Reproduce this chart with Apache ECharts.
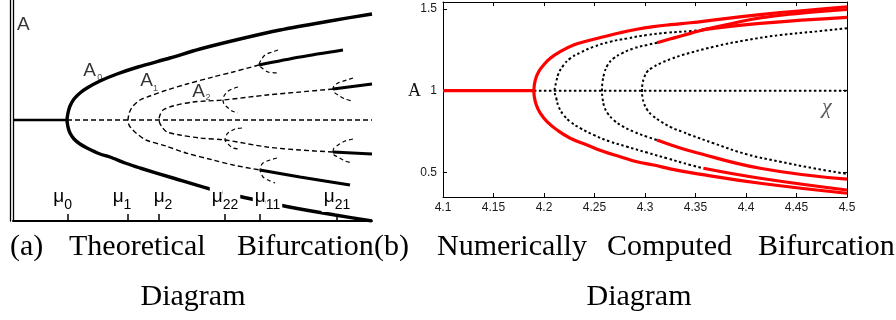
<!DOCTYPE html>
<html>
<head>
<meta charset="utf-8">
<script src="https://cdn.jsdelivr.net/npm/echarts@6/dist/echarts.min.js"></script>
<style>
  html, body { margin: 0; padding: 0; background: #fff; }
  #chart { width: 896px; height: 320px; }
</style>
</head>
<body>
<div id="chart"></div>
<script>
// ---------------- (a) theoretical diagram, schematic units ----------------
// horizontal: parameter mu (arbitrary units), vertical: amplitude A (arbitrary units)
const muTicks = [55.7, 116, 147, 213, 248, 325];
const muNames = ['0', '1', '2', '22', '11', '21'];

const aStableFlat = [[1, 0], [55, 0]];
const aUnstableFlat = [[55, 0], [360, 0]];
const aBranchA0 = [
  [360, 106], [318, 99], [268, 90], [228, 81], [188, 71], [158, 62], [126, 53], [105, 46],
  [88, 39], [75, 32], [68, 27], [62, 21], [58, 14], [56, 7], [55, 0],
  [56, -7], [58, -13], [62, -19], [68, -24], [75, -28], [88, -34], [98, -37], [113, -43],
  [128, -48], [161, -58], [198, -69], [230, -77], [258, -83], [288, -89], [323, -95], [360, -101]
];
const aBranchA1 = [
  [247, 55], [221, 48], [201, 43], [175, 36], [155, 30], [138, 24], [128, 20], [121, 14],
  [118, 9], [117, 6], [116, 0], [117, -5], [119, -8], [124, -13], [134, -20], [154, -26],
  [174, -33], [201, -40], [221, -45], [248, -50]
];
const aBranchA2 = [
  [321, 31], [288, 28], [255, 25], [211, 20], [181, 18], [161, 14], [151, 10], [148, 5],
  [147, 0], [150, -7], [155, -12], [168, -15], [188, -18], [213, -20], [255, -27],
  [288, -30], [321, -32]
];
const aStableA1Upper = [[247, 55], [288, 63], [331, 70]];
const aStableA1Lower = [[248, -50], [288, -57], [338, -65]];
const aStableA2Upper = [[321, 31], [360, 36]];
const aStableA2Lower = [[321, -32], [360, -34]];
const aCusps = [
  [[266, 70], [260, 68], [253, 65], [249, 60], [247, 55], [250, 52], [256, 48], [266, 47]],
  [[226, 33], [220, 31], [215, 28], [212, 24], [211, 20], [212, 16], [215, 13], [220, 9], [226, 7]],
  [[341, 42], [335, 40], [326, 37], [322, 34], [321, 31], [322, 28], [326, 25], [333, 21], [340, 19]],
  [[230, -8], [223, -9], [216, -13], [214, -16], [213, -20], [214, -22], [216, -24], [221, -28], [228, -29]],
  [[341, -19], [333, -21], [326, -25], [322, -28], [321, -32], [322, -35], [326, -37], [333, -41], [340, -43]],
  [[265, -38], [258, -40], [251, -43], [249, -46], [248, -50], [249, -53], [251, -57], [256, -60], [263, -63]]
];
const aLetters = [[11.3, 95, 'A'], [77.7, 48.8, 'A'], [134.7, 39, 'A'], [186.5, 28.5, 'A']];
const aSubscripts = [[87.7, 42, '0'], [143.5, 31.5, '1'], [196, 22.5, '2']];

// ---------------- (b) numerically computed diagram ----------------
const bChi = [4.1, 4.5];
const bTicksA = [0.5, 1, 1.5];
const bStableFlat = [[4.1, 1], [4.19, 1]];
const bUnstableFlat = [[4.19, 1], [4.5, 1]];
const bOuter = [
  [4.5, 1.514], [4.414, 1.466], [4.345, 1.416], [4.325, 1.404], [4.3085, 1.392], [4.292, 1.376],
  [4.2755, 1.355], [4.259, 1.33], [4.2426, 1.304], [4.2293, 1.28], [4.2161, 1.239], [4.2062, 1.198],
  [4.1996, 1.157], [4.1947, 1.116], [4.1914, 1.066], [4.19, 1],
  [4.1904, 0.963], [4.1924, 0.912], [4.1963, 0.862], [4.203, 0.81], [4.2129, 0.759], [4.226, 0.709],
  [4.2426, 0.668], [4.259, 0.627], [4.2755, 0.596], [4.292, 0.565], [4.3085, 0.545], [4.325, 0.521],
  [4.345, 0.498], [4.414, 0.433], [4.5, 0.372]
];
const bUnstable2 = [
  [4.356, 1.372], [4.345, 1.365], [4.3218, 1.355], [4.302, 1.341], [4.2822, 1.32], [4.2656, 1.3],
  [4.2491, 1.269], [4.2359, 1.233], [4.226, 1.198], [4.2194, 1.157], [4.2145, 1.106], [4.2122, 1.055],
  [4.2105, 1], [4.2122, 0.953], [4.2145, 0.902], [4.2194, 0.851], [4.226, 0.81], [4.2359, 0.77],
  [4.2491, 0.729], [4.2656, 0.688], [4.2822, 0.657], [4.302, 0.621], [4.3218, 0.586], [4.345, 0.545],
  [4.3578, 0.525]
];
const bStable2Upper = [[4.356, 1.372], [4.414, 1.412], [4.5, 1.449]];
const bStable2Lower = [[4.3578, 0.525], [4.414, 0.464], [4.5, 0.392]];
const bUnstable3 = [
  [4.3119, 1.294], [4.302, 1.28], [4.2887, 1.259], [4.2772, 1.229], [4.2689, 1.198], [4.263, 1.157],
  [4.2597, 1.106], [4.258, 1.055], [4.2574, 1], [4.258, 0.953], [4.2597, 0.902], [4.263, 0.862],
  [4.2689, 0.821], [4.2772, 0.784], [4.2887, 0.749], [4.302, 0.718], [4.3119, 0.698]
];
const bStable3Upper = [[4.3119, 1.294], [4.328, 1.322], [4.345, 1.351], [4.36, 1.376], [4.385, 1.41], [4.414, 1.446], [4.45, 1.472], [4.5, 1.497]];
const bStable3Lower = [[4.3119, 0.698], [4.328, 0.663], [4.345, 0.631], [4.414, 0.525], [4.5, 0.458]];
const bUnstable4 = [
  [4.5, 1.382], [4.467, 1.361], [4.434, 1.341], [4.401, 1.31], [4.368, 1.269], [4.3368, 1.218],
  [4.326, 1.195], [4.316, 1.17], [4.307, 1.14], [4.302, 1.115], [4.2992, 1.08], [4.2975, 1.04],
  [4.297, 1], [4.2975, 0.96], [4.2992, 0.92], [4.302, 0.885], [4.307, 0.85], [4.316, 0.81],
  [4.326, 0.775], [4.3368, 0.749], [4.345, 0.729], [4.368, 0.678], [4.401, 0.61], [4.434, 0.565],
  [4.467, 0.525], [4.5, 0.49]
];
const bChiMark = [[4.48, 0.9, 'χ']];

// ---------------- drawing ----------------
const SANS = '"Liberation Sans", Arial, sans-serif';
const SERIF = '"Liberation Serif", "Times New Roman", serif';

function curve(data, panel, style, extra) {
  return Object.assign({
    type: 'line',
    data: data,
    xAxisIndex: panel === 'a' ? 0 : 1,
    yAxisIndex: panel === 'a' ? 0 : 2,
    showSymbol: false,
    symbol: 'none',
    smooth: panel === 'a' ? 0.3 : 0.45,
    silent: true,
    animation: false,
    lineStyle: Object.assign({ color: '#000', width: 3, type: 'solid', cap: 'butt' }, style)
  }, extra || {});
}

const dashA = { width: 1.4, type: [5, 3] };
const solidA = { width: 3.2 };
const dotB = { width: 2, type: [2.5, 2.5] };
const redB = { width: 3.2, color: '#ff0000' };

const series = [
  curve(aStableFlat, 'a', { width: 2.5 }),
  curve(aUnstableFlat, 'a', dashA, { smooth: false }),
  curve(aBranchA1, 'a', dashA),
  curve(aBranchA2, 'a', dashA),
  curve(aBranchA0, 'a', { width: 3.4 }),
  curve(aStableA1Upper, 'a', solidA),
  curve(aStableA1Lower, 'a', solidA),
  curve(aStableA2Upper, 'a', solidA),
  curve(aStableA2Lower, 'a', solidA)
];
aCusps.forEach(c => series.push(curve(c, 'a', { width: 1.2, type: [4, 3] })));

series.push({
  type: 'scatter', xAxisIndex: 0, yAxisIndex: 0, data: aLetters, symbolSize: 1,
  itemStyle: { color: 'transparent' }, silent: true,
  label: {
    show: true, position: 'inside', color: '#000', fontFamily: SANS, fontSize: 19,
    formatter: p => p.data[2]
  }
});
series.push({
  type: 'scatter', xAxisIndex: 0, yAxisIndex: 0, data: aSubscripts, symbolSize: 1,
  itemStyle: { color: 'transparent' }, silent: true,
  label: { show: true, position: 'inside', color: '#222', fontFamily: SANS, fontSize: 9, formatter: p => p.data[2] }
});

series.push(
  curve(bUnstableFlat, 'b', dotB, { smooth: false }),
  curve(bUnstable2, 'b', dotB),
  curve(bUnstable3, 'b', dotB),
  curve(bUnstable4, 'b', dotB),
  curve(bStableFlat, 'b', redB, { smooth: false }),
  curve(bOuter, 'b', redB),
  curve(bStable2Upper, 'b', redB),
  curve(bStable2Lower, 'b', redB),
  curve(bStable3Upper, 'b', redB),
  curve(bStable3Lower, 'b', redB)
);
series.push({
  type: 'scatter', xAxisIndex: 1, yAxisIndex: 2, data: bChiMark, symbolSize: 1,
  itemStyle: { color: 'transparent' }, silent: true,
  label: { show: true, position: 'inside', color: '#333', fontFamily: SERIF, fontStyle: 'italic', fontSize: 22, formatter: p => p.data[2] }
});

// spacer tokens that nudge individual mu labels sideways
const muLabelNudge = { '0': 'r10', '1': 'r12', '2': 'l8', '22': '', '11': 'l15', '21': '' };

function muLabel(v) {
  let i = 0, best = Infinity;
  muTicks.forEach((t, k) => { const d = Math.abs(t - v); if (d < best) { best = d; i = k; } });
  const sub = muNames[i];
  const nudge = muLabelNudge[sub];
  const body = '{m|μ}{s|' + sub + '}';
  if (!nudge) return body;
  return nudge[0] === 'l' ? '{' + nudge + '|}' + body : body + '{' + nudge + '|}';
}

const blackLine = { show: true, onZero: false, lineStyle: { color: '#000', width: 1 } };

const option = {
  animation: false,
  backgroundColor: '#fff',
  grid: [
    { left: 13, top: 0, width: 359, height: 221 },
    { left: 443, top: 2, width: 404, height: 195 }
  ],
  xAxis: [
    {
      gridIndex: 0, type: 'value', min: 1, max: 360, z: 10,
      axisLine: { show: true, onZero: false, lineStyle: { color: '#000', width: 2 } },
      axisTick: { show: true, inside: true, length: 7, customValues: muTicks, lineStyle: { color: '#000', width: 1.5 } },
      axisLabel: {
        show: true, inside: true, margin: 9, customValues: muTicks, formatter: muLabel,
        rich: {
          m: { fontFamily: SANS, fontSize: 19, lineHeight: 19, padding: [0, 0, 6, 2], backgroundColor: '#fff', verticalAlign: 'bottom', color: '#000' },
          s: { fontFamily: SANS, fontSize: 14, lineHeight: 14, padding: [11, 2, 0, 0], backgroundColor: '#fff', verticalAlign: 'bottom', color: '#000' },
          r10: { width: 10 }, r12: { width: 12 }, l8: { width: 8 }, l15: { width: 15 }
        }
      },
      splitLine: { show: false }
    },
    {
      gridIndex: 1, type: 'value', min: bChi[0], max: bChi[1], interval: 0.05, position: 'bottom',
      axisLine: blackLine,
      axisTick: { show: true, inside: true, length: 4, lineStyle: { color: '#000', width: 1 } },
      axisLabel: { show: true, margin: 5, fontFamily: SANS, fontSize: 12, color: '#1a1a1a' },
      splitLine: { show: false }
    },
    {
      gridIndex: 1, type: 'value', min: bChi[0], max: bChi[1], interval: 0.05, position: 'top',
      axisLine: blackLine,
      axisTick: { show: true, inside: true, length: 4, lineStyle: { color: '#000', width: 1 } },
      axisLabel: { show: false }, splitLine: { show: false }
    }
  ],
  yAxis: [
    {
      gridIndex: 0, type: 'value', min: -101, max: 120, position: 'left',
      axisLine: { show: true, onZero: false, lineStyle: { color: '#000', width: 1.3 } },
      axisTick: { show: false }, axisLabel: { show: false }, splitLine: { show: false }
    },
    {
      gridIndex: 0, type: 'value', min: -101, max: 120, position: 'left', offset: 3,
      axisLine: { show: true, onZero: false, lineStyle: { color: '#000', width: 1.3 } },
      axisTick: { show: false }, axisLabel: { show: false }, splitLine: { show: false }
    },
    {
      gridIndex: 1, type: 'value', min: 0.349, max: 1.543, position: 'left',
      axisLine: blackLine,
      axisTick: { show: true, inside: true, length: 4, customValues: bTicksA, lineStyle: { color: '#000', width: 1 } },
      axisLabel: { show: true, margin: 6, customValues: bTicksA, fontFamily: SANS, fontSize: 12, color: '#1a1a1a', formatter: v => String(v) },
      splitLine: { show: false }
    },
    {
      gridIndex: 1, type: 'value', min: 0.349, max: 1.543, position: 'right',
      axisLine: blackLine,
      axisTick: { show: true, inside: true, length: 4, customValues: bTicksA, lineStyle: { color: '#000', width: 1 } },
      axisLabel: { show: false }, splitLine: { show: false }
    }
  ],
  graphic: [
    { type: 'text', x: 408, y: 91, style: { text: 'A', font: '18px ' + SERIF, fill: '#111', textVerticalAlign: 'middle' } },
    { type: 'text', x: 10, y: 247, style: { text: '(a)', font: '30px ' + SERIF, fill: '#000', textVerticalAlign: 'middle' } },
    { type: 'text', x: 69, y: 247, style: { text: 'Theoretical', font: '30px ' + SERIF, fill: '#000', textVerticalAlign: 'middle' } },
    { type: 'text', x: 237, y: 247, style: { text: 'Bifurcation', font: '30px ' + SERIF, fill: '#000', textVerticalAlign: 'middle' } },
    { type: 'text', x: 374, y: 247, style: { text: '(b)', font: '30px ' + SERIF, fill: '#000', textVerticalAlign: 'middle' } },
    { type: 'text', x: 437, y: 247, style: { text: 'Numerically', font: '30px ' + SERIF, fill: '#000', textVerticalAlign: 'middle' } },
    { type: 'text', x: 607, y: 247, style: { text: 'Computed', font: '30px ' + SERIF, fill: '#000', textVerticalAlign: 'middle' } },
    { type: 'text', x: 758, y: 247, style: { text: 'Bifurcation', font: '30px ' + SERIF, fill: '#000', textVerticalAlign: 'middle' } },
    { type: 'text', x: 193, y: 297, style: { text: 'Diagram', font: '30px ' + SERIF, fill: '#000', textAlign: 'center', textVerticalAlign: 'middle' } },
    { type: 'text', x: 639, y: 297, style: { text: 'Diagram', font: '30px ' + SERIF, fill: '#000', textAlign: 'center', textVerticalAlign: 'middle' } }
  ],
  series: series
};

const chart = echarts.init(document.getElementById('chart'), null, { renderer: 'canvas' });
chart.setOption(option);
</script>
</body>
</html>
